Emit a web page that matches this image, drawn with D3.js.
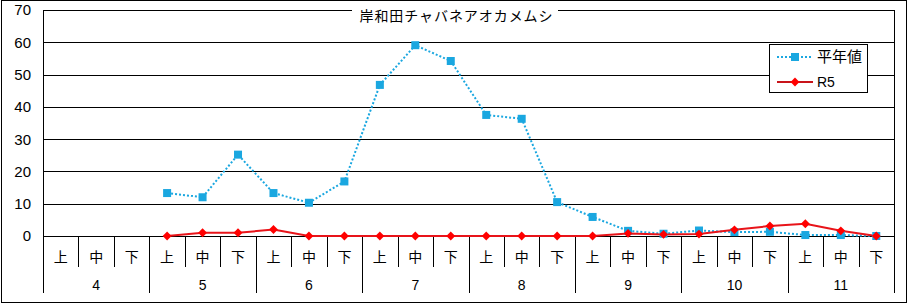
<!DOCTYPE html>
<html>
<head>
<meta charset="utf-8">
<script src="https://cdn.jsdelivr.net/npm/d3@7"></script>
<style>
  body { margin: 0; background: #fff; }
  svg { display: block; font-family: "Noto Sans CJK JP", "DejaVu Sans", sans-serif; }
</style>
</head>
<body>
<div id="chart"></div>
<script>
// data
const months = ['4', '5', '6', '7', '8', '9', '10', '11'];
const periods = ['上', '中', '下'];
const normalValues = [null, null, null, 13.3, 12.0, 25.2, 13.3, 10.3, 16.9, 46.8, 59.1, 54.2,
  37.5, 36.3, 10.5, 5.9, 1.6, 0.7, 1.7, 1.2, 1.3, 0.3, 0.3, 0];
const r5Values = [null, null, null, 0, 1, 1, 2, 0, 0, 0, 0, 0,
  0, 0, 0, 0, 0.8, 0.5, 0.6, 1.9, 3.1, 3.8, 1.6, 0];
const yTicks = [0, 10, 20, 30, 40, 50, 60, 70];
const title = '岸和田チャバネアオカメムシ';
const seriesNames = ['平年値', 'R5'];

const width = 908, height = 304;
const margin = { top: 10, right: 14, bottom: 68, left: 43 };
const innerW = width - margin.left - margin.right;
const innerH = height - margin.top - margin.bottom;
const numFont = 'Liberation Sans, Arial, sans-serif';

const cats = [];
months.forEach(m => periods.forEach(p => cats.push(m + '-' + p)));

const svg = d3.select('#chart').append('svg')
  .attr('width', width).attr('height', height);

// outer frame
svg.append('rect')
  .attr('x', 1.5).attr('y', 0.5)
  .attr('width', 905).attr('height', 302)
  .attr('fill', '#fff').attr('stroke', '#000');

const g = svg.append('g').attr('transform', `translate(${margin.left},${margin.top})`);

const x = d3.scaleBand().domain(cats).range([0, innerW]).padding(0);
const y = d3.scaleLinear().domain([0, 70]).range([innerH, 0]);

// horizontal grid lines
g.selectAll('.grid').data(yTicks).enter().append('line')
  .attr('x1', 0).attr('x2', innerW)
  .attr('y1', d => Math.round(y(d)) + 0.5).attr('y2', d => Math.round(y(d)) + 0.5)
  .attr('stroke', '#000');

// y tick labels
g.selectAll('.ylab').data(yTicks).enter().append('text')
  .attr('x', -12).attr('y', d => y(d))
  .attr('dy', '0.36em')
  .attr('text-anchor', 'end')
  .attr('font-size', 15)
  .attr('font-family', numFont)
  .text(d => d);

// left and right plot edges
[0, innerW].forEach(xx => {
  g.append('line')
    .attr('x1', Math.round(xx) + 0.5).attr('x2', Math.round(xx) + 0.5)
    .attr('y1', 0).attr('y2', innerH + 57)
    .attr('stroke', '#000');
});

// category dividers
cats.forEach((c, i) => {
  if (i === 0) return;
  const xx = Math.round(x(c)) + 0.5;
  g.append('line')
    .attr('x1', xx).attr('x2', xx)
    .attr('y1', innerH).attr('y2', i % 3 === 0 ? innerH + 57 : innerH + 31)
    .attr('stroke', '#000');
});

// period labels
g.selectAll('.plab').data(cats).enter().append('text')
  .attr('x', d => x(d) + x.bandwidth() / 2)
  .attr('y', innerH + 21)
  .attr('dy', '0.36em')
  .attr('text-anchor', 'middle')
  .attr('font-size', 14)
  .text(d => d.split('-')[1]);

// month labels
g.selectAll('.mlab').data(months).enter().append('text')
  .attr('x', m => x(m + '-中') + x.bandwidth() / 2)
  .attr('y', innerH + 49)
  .attr('dy', '0.36em')
  .attr('text-anchor', 'middle')
  .attr('font-size', 14)
  .attr('font-family', numFont)
  .text(m => m);

// title with white background
svg.append('rect')
  .attr('x', 352).attr('y', 3).attr('width', 206).attr('height', 22)
  .attr('fill', '#fff');
svg.append('text')
  .attr('x', 456).attr('y', 16)
  .attr('dy', '0.36em')
  .attr('text-anchor', 'middle')
  .attr('font-size', 14)
  .attr('textLength', 193)
  .text(title);

const cx = (d, i) => x(cats[i]) + x.bandwidth() / 2;

const line = d3.line()
  .defined(d => d !== null)
  .x((d, i) => cx(d, i))
  .y(d => y(d));

// 平年値 series
g.append('path')
  .datum(normalValues)
  .attr('d', line)
  .attr('fill', 'none')
  .attr('stroke', '#1aa7e0')
  .attr('stroke-width', 2)
  .attr('stroke-dasharray', '2,2');

// R5 series
g.append('path')
  .datum(r5Values)
  .attr('d', line)
  .attr('fill', 'none')
  .attr('stroke', '#e8141a')
  .attr('stroke-width', 2);

normalValues.forEach((v, i) => {
  if (v === null) return;
  g.append('rect')
    .attr('x', cx(v, i) - 4).attr('y', y(v) - 4)
    .attr('width', 8).attr('height', 8)
    .attr('fill', '#1aa7e0');
});

const diamond = d3.symbol().type(d3.symbolDiamond2).size(50);
r5Values.forEach((v, i) => {
  if (v === null) return;
  g.append('path')
    .attr('d', diamond)
    .attr('transform', `translate(${cx(v, i)},${y(v)})`)
    .attr('fill', '#ff0000');
});

// legend
const lg = svg.append('g').attr('transform', 'translate(769,44)');
lg.append('rect')
  .attr('x', 0.5).attr('y', 0.5).attr('width', 98).attr('height', 48)
  .attr('fill', '#fff').attr('stroke', '#000');

lg.append('line')
  .attr('x1', 8).attr('x2', 44).attr('y1', 13).attr('y2', 13)
  .attr('stroke', '#1aa7e0').attr('stroke-width', 2).attr('stroke-dasharray', '2,2');
lg.append('rect')
  .attr('x', 22).attr('y', 9).attr('width', 8).attr('height', 8)
  .attr('fill', '#1aa7e0');
lg.append('text')
  .attr('x', 48).attr('y', 13).attr('dy', '0.36em')
  .attr('font-size', 15)
  .text(seriesNames[0]);

lg.append('line')
  .attr('x1', 8).attr('x2', 44).attr('y1', 38).attr('y2', 38)
  .attr('stroke', '#c8141a').attr('stroke-width', 2);
lg.append('path')
  .attr('d', diamond)
  .attr('transform', 'translate(26,38)')
  .attr('fill', '#ff0000');
lg.append('text')
  .attr('x', 48).attr('y', 38).attr('dy', '0.36em')
  .attr('font-size', 14)
  .attr('font-family', numFont)
  .text(seriesNames[1]);
</script>
</body>
</html>
